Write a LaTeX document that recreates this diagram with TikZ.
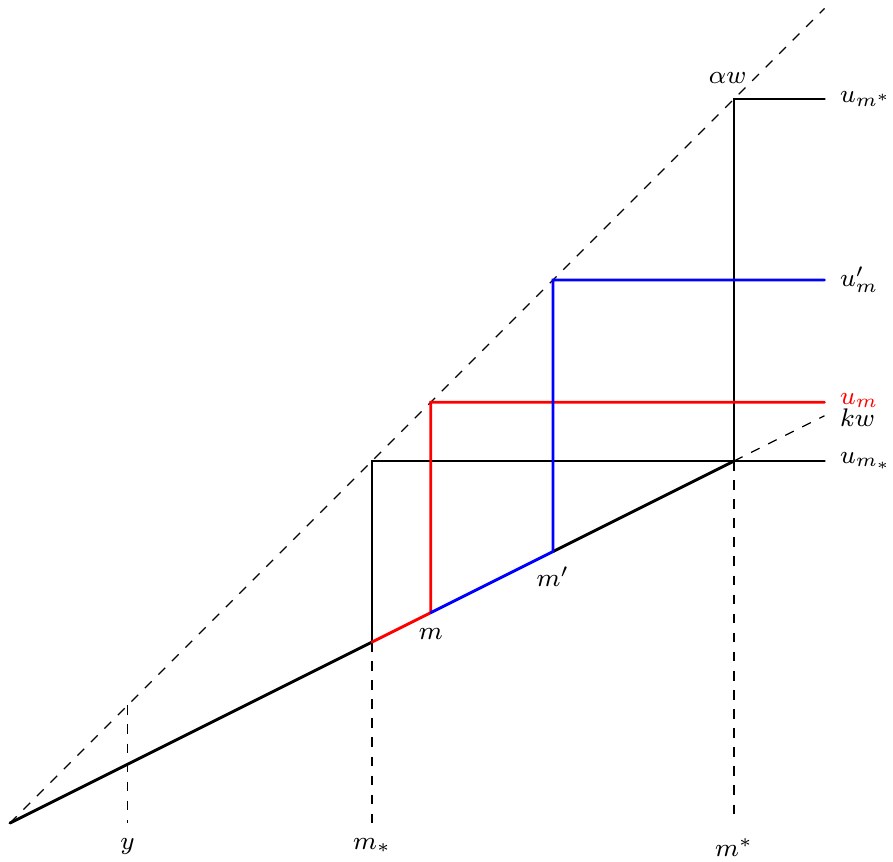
\documentclass[tikz,border=0pt]{standalone}
\usepackage{tikz}

\definecolor{mcolor}{RGB}{255,0,0}
\definecolor{mpcolor}{RGB}{0,0,255}

\tikzset{
  guide/.style={thin, dashed},
  curve/.style={line width=0.9pt, line cap=round},
  lab/.style={font=\footnotesize, inner sep=1pt},
}

\begin{document}
\begin{tikzpicture}
\useasboundingbox (-0.11,-0.42) rectangle (9.757,9.094);
% points
\coordinate (O) at (0,0);
\coordinate (aw) at (9,9);
\coordinate (kwend) at (9,4.5);
\coordinate (yb) at (1.3,0);
\coordinate (yt) at (1.3,1.3);
\coordinate (msb) at (4,0);
\coordinate (ms) at (4,2);
\coordinate (mst) at (4,4);
\coordinate (mssr) at (9,4);
\coordinate (m) at (4.65,2.325);
\coordinate (mt) at (4.65,4.65);
\coordinate (mr) at (9,4.65);
\coordinate (mp) at (6,3);
\coordinate (mpt) at (6,6);
\coordinate (mpr) at (9,6);
\coordinate (mSb) at (8,0);
\coordinate (mS) at (8,4);
\coordinate (mSt) at (8,8);
\coordinate (mSr) at (9,8);
% dashed guides
\draw[guide] (O) -- (aw);
\draw[guide] (mS) -- (kwend);
\draw[guide] (yt) -- (yb);
\draw[guide] (ms) -- (msb);
\draw[guide] (mS) -- (mSb);
% black
\draw[curve] (O) -- (ms);
\draw[curve] (mp) -- (mS);
\draw[curve] (ms) -- (mst) -- (mssr);
\draw[curve] (mS) -- (mSt) -- (mSr);
% red
\draw[curve, draw=mcolor] (ms) -- (m) -- (mt) -- (mr);
% blue
\draw[curve, draw=mpcolor] (m) -- (mp) -- (mpt) -- (mpr);
% labels
\node[lab, below=3.7pt] (ylab) at (yb) {$y$};
\node[lab, below=3.7pt] (mslab) at (msb) {$m_*$};
\node[lab, below=3.7pt] (mSlab) at (mSb) {$m^*$};
\node[lab, below=3.7pt] (mlab) at (m) {$m$};
\node[lab, below=3.7pt] (mplab) at (mp) {$m'$};
\node[lab, above=3.7pt, xshift=-2pt] (awlab) at (mSt) {$\alpha w$};
\node[lab, right=3.7pt] (uSlab) at (mSr) {$u_{m^*}$};
\node[lab, right=3.7pt] (uplab) at (mpr) {$u'_m$};
\node[lab, right=3.7pt, yshift=0.5pt, text=mcolor] (umlab) at (mr) {$u_m$};
\node[lab, right=3.7pt, yshift=-0.5pt] (kwlab) at (kwend) {$kw$};
\node[lab, right=3.7pt] (uslab) at (mssr) {$u_{m_*}$};
\end{tikzpicture}
\end{document}
